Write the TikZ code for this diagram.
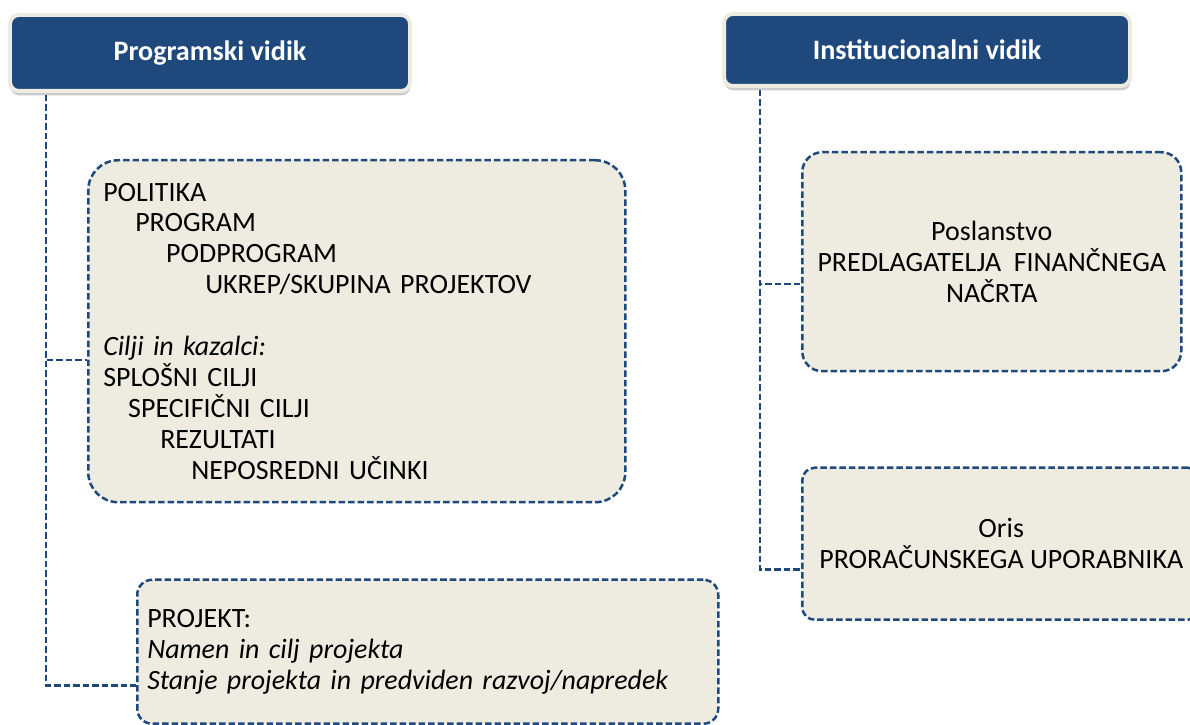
\documentclass[tikz,border=0pt]{standalone}
\usepackage{fontspec}
\setmainfont{Carlito}
\usepackage{tikz}
\usetikzlibrary{positioning,shadows}
\definecolor{hdrblue}{RGB}{31,73,125}
\definecolor{boxcream}{RGB}{238,236,225}

\begin{document}
\begin{tikzpicture}

		% Define styles
		\tikzstyle{header} = [
		rectangle, rounded corners=5pt, draw=boxcream, line width=0.08cm,
		fill=hdrblue, text=white, inner sep=0pt,
		font=\fontsize{16pt}{19pt}\selectfont\bfseries,
		drop shadow={shadow xshift=0.3pt, shadow yshift=-2.5pt, fill=black!40, opacity=0.5}]
		\tikzstyle{textbox} = [
		rectangle, draw=hdrblue, fill=boxcream, line width=0.05cm,
		dash pattern=on 0.13cm off 0.06cm,
		font=\fontsize{15.9pt}{17.6pt}\selectfont]
		\tikzstyle{link} = [draw=hdrblue, line width=0.05cm, dash pattern=on 0.13cm off 0.06cm]

		\clip (0,0) rectangle (23.8,-14.5);

		% Nodes
		\node (hdr1) [header, minimum width=8cm, minimum height=1.52cm] at (4.2,-1.06) {Programski vidik};

		\node (hdr2) [header, minimum width=8.12cm, minimum height=1.44cm] at (18.54,-1.0) {Institucionalni vidik};

		\node (box1) [textbox, rounded corners=0.6cm,
			below right=1.32cm and 1.58cm of hdr1.south west,
			align=left, text width=10.14cm, inner xsep=0.3cm, minimum height=6.84cm] {
			POLITIKA \\
			\hspace*{0.64cm}PROGRAM \\
			\hspace*{1.26cm}PODPROGRAM \\
			\hspace*{2.04cm}UKREP/SKUPINA PROJEKTOV \\[17.6pt]
			\textit{Cilji in kazalci:} \\
			SPLOŠNI CILJI \\
			\hspace*{0.5cm}SPECIFIČNI CILJI \\
			\hspace*{1.14cm}REZULTATI \\
			\hspace*{1.76cm}NEPOSREDNI UČINKI
		};

		\node (box2) [textbox, rounded corners=0.3cm,
			below right=1.5cm and 0.98cm of box1.south west,
			align=left, text width=11.22cm, inner xsep=0.2cm, minimum height=2.88cm] {
			PROJEKT: \\
			\textit{Namen in cilj projekta} \\
			\textit{Stanje projekta in predviden razvoj/napredek}
		};

		\node (box3) [textbox, rounded corners=0.4cm,
			below right=1.26cm and 1.58cm of hdr2.south west,
			align=center, minimum width=7.58cm, minimum height=4.38cm] {
			Poslanstvo \\
			PREDLAGATELJA\ \ FINANČNEGA \\
			NAČRTA
		};

		\node (box4) [textbox, rounded corners=0.25cm,
			below=1.88cm of box3.south west, anchor=north west,
			align=center, minimum width=7.96cm, minimum height=3.04cm] {
			Oris \\
			PRORAČUNSKEGA UPORABNIKA
		};

		% Connectors
		\coordinate (trunkL) at ([xshift=0.76cm, yshift=-0.04cm]hdr1.south west);
		\coordinate (trunkR) at ([xshift=0.76cm, yshift=-0.04cm]hdr2.south west);

		\draw [link] (trunkL) |- ([yshift=-0.58cm]box1.west);
		\draw [link] (trunkL) |- ([yshift=-2.14cm]box2.north west);
		\draw [link] (trunkR) |- ([yshift=-0.45cm]box3.west);
		\draw [link] (trunkR) |- ([yshift=-0.52cm]box4.west);
	\end{tikzpicture}
\end{document}
